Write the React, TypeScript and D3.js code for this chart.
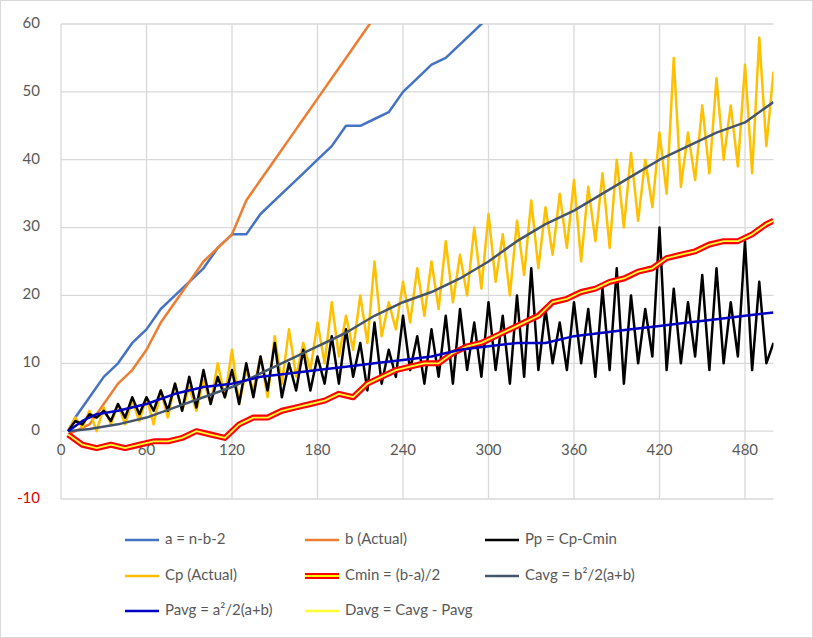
import { useEffect, useRef } from 'react';
import * as d3 from 'd3';

type Pt = [number, number];

// step series sampled every 5 units (x = 5..500)
const stepX = d3.range(5, 501, 5);
const cpValues = [
  0, 2, 0.5, 3, 0, 3.5, 1, 4, 1, 4.5,
  1.5, 5, 1, 6, 2, 7, 3, 6.5, 3, 7.5,
  4, 10, 5, 12, 4, 9, 6, 11, 5, 14,
  7, 15, 8, 13, 9, 16, 10, 19, 11, 17,
  12, 20, 13, 25, 14, 19, 15, 22, 16, 24,
  17, 25, 18, 28, 19, 26, 20, 30, 21, 32,
  22, 29, 20, 31, 23, 34, 24, 33, 26, 35,
  27, 37, 25, 36, 28, 38, 27, 40, 30, 41,
  31, 40, 33, 44, 35, 55, 36, 44, 37, 48,
  38, 52, 40, 48, 39, 54, 38, 58, 42, 53,
];
const ppValues = [
  0, 1.5, 1, 2.5, 2, 3, 1.5, 4, 2, 5,
  2.5, 5, 3, 6, 3, 7, 3, 8, 3.5, 9,
  4, 8, 5, 9, 4, 10, 5, 11, 6, 13,
  5, 10, 6, 12, 6, 11, 7, 14, 7, 15,
  8, 13, 6, 16, 7, 12, 8, 17, 9, 14,
  7, 15, 8, 17, 7, 18, 9, 16, 8, 19,
  9, 17, 7, 20, 8, 24, 9, 18, 10, 16,
  9, 19, 10, 18, 8, 21, 9, 24, 7, 20,
  10, 18, 11, 30, 9, 21, 10, 19, 11, 23,
  9, 24, 10, 19, 11, 28, 9, 22, 10, 13,
];

const aPoints: Pt[] = [[5,0],[10,2],[20,5],[30,8],[40,10],[50,13],[60,15],[70,18],[80,20],[90,22],[100,24],[110,27],[120,29],[130,29],[140,32],[150,34],[160,36],[170,38],[180,40],[190,42],[200,45],[210,45],[220,46],[230,47],[240,50],[250,52],[260,54],[270,55],[280,57],[290,59],[300,61]];
const bPoints: Pt[] = [[5,-0.5],[10,0],[20,1],[30,4],[40,7],[50,9],[60,12],[70,16],[80,19],[90,22],[100,25],[110,27],[120,29],[130,34],[140,37],[150,40],[160,43],[170,46],[180,49],[190,52],[200,55],[210,58],[220,61]];
const cavgPoints: Pt[] = [[5,0],[20,0.3],[40,1],[60,2],[80,3.5],[100,5],[120,6.5],[140,8.5],[160,10.5],[180,12.5],[200,14.5],[220,17],[240,19],[260,20.5],[280,22.5],[300,25],[320,28],[340,30.5],[360,32.5],[380,35],[400,37.5],[420,40],[440,42],[460,44],[480,45.5],[500,48.5]];
const pavgPoints: Pt[] = [[5,0],[15,1.5],[25,2.5],[40,3],[60,4],[80,5.5],[100,6.5],[120,7],[140,8],[160,8.5],[180,9],[200,9.5],[220,10],[240,10.5],[260,11],[280,12],[300,12.5],[320,13],[340,13],[360,14],[380,14.5],[400,15],[420,15.5],[440,16],[460,16.5],[480,17],[500,17.5]];
const cminPoints: Pt[] = [[5,-0.5],[15,-2],[25,-2.5],[35,-2],[45,-2.5],[55,-2],[65,-1.5],[75,-1.5],[85,-1],[95,0],[105,-0.5],[115,-1],[125,1],[135,2],[145,2],[155,3],[165,3.5],[175,4],[185,4.5],[195,5.5],[205,5],[215,7],[225,8],[235,9],[245,9.5],[255,10],[265,10],[275,11.5],[285,12.5],[295,13],[305,14],[315,15],[325,16],[335,17],[345,19],[355,19.5],[365,20.5],[375,21],[385,22],[395,22.5],[405,23.5],[415,24],[425,25.5],[435,26],[445,26.5],[455,27.5],[465,28],[475,28],[485,29],[495,30.5],[500,31]];
const davgPoints: Pt[] = cminPoints; // coincides with Cmin

const xTicks = [0, 60, 120, 180, 240, 300, 360, 420, 480];
const yTicks = [-10, 0, 10, 20, 30, 40, 50, 60];

const legendItems = [
  { label: 'a = n-b-2', color: '#4472c4', width: 2.5 },
  { label: 'b (Actual)', color: '#ed7d31', width: 2.5 },
  { label: 'Pp = Cp-Cmin', color: '#000000', width: 2.5 },
  { label: 'Cp (Actual)', color: '#ffc000', width: 2.5 },
  { label: 'Cmin = (b-a)/2', color: '#ff0000', width: 6, inner: '#ffff00' },
  { label: 'Cavg = b²/2(a+b)', color: '#44546a', width: 2.5 },
  { label: 'Pavg = a²/2(a+b)', color: '#0000c0', width: 2.5 },
  { label: 'Davg = Cavg - Pavg', color: '#ffff33', width: 2.5 },
];

export default function App() {
  const ref = useRef<SVGSVGElement>(null);

  useEffect(() => {
    const svg = d3.select(ref.current);
    svg.selectAll('*').remove();
    const W = 813, H = 638;
    const x = d3.scaleLinear().domain([0, 500]).range([61, 61 + (500 * 85.5) / 60]);
    const y = d3.scaleLinear().domain([-10, 60]).range([499, 24]);
    const font = 'Lato, "Open Sans", sans-serif';

    svg.append('rect').attr('x', 0.5).attr('y', 0.5).attr('width', W - 1).attr('height', H - 1)
      .attr('fill', 'white').attr('stroke', '#d9d9d9');

    svg.append('defs').append('clipPath').attr('id', 'plot')
      .append('rect').attr('x', x(0)).attr('y', y(60)).attr('width', x(500) - x(0)).attr('height', y(-10) - y(60));

    // grid
    yTicks.forEach(t => {
      svg.append('line').attr('x1', x(0)).attr('x2', x(500)).attr('y1', y(t)).attr('y2', y(t))
        .attr('stroke', '#d9d9d9').attr('stroke-width', 1.3);
      svg.append('text').attr('x', 40).attr('y', y(t)).attr('text-anchor', 'end')
        .attr('dominant-baseline', 'middle').attr('font-family', font).attr('font-size', 15)
        .attr('fill', t < 0 ? '#e00000' : '#595959').text(t);
    });
    xTicks.forEach(t => {
      svg.append('line').attr('x1', x(t)).attr('x2', x(t)).attr('y1', y(60)).attr('y2', y(-10))
        .attr('stroke', '#d9d9d9').attr('stroke-width', 1.3);
      svg.append('text').attr('x', x(t)).attr('y', y(0) + 24).attr('text-anchor', 'middle')
        .attr('font-family', font).attr('font-size', 15).attr('fill', '#595959').text(t);
    });

    const line = d3.line<Pt>().x(d => x(d[0])).y(d => y(d[1]));
    const g = svg.append('g').attr('clip-path', 'url(#plot)');
    const draw = (pts: Pt[], color: string, w: number) =>
      g.append('path').datum(pts).attr('d', line).attr('fill', 'none')
        .attr('stroke', color).attr('stroke-width', w).attr('stroke-linejoin', 'round');

    const cp: Pt[] = stepX.map((v, i) => [v, cpValues[i]]);
    const pp: Pt[] = stepX.map((v, i) => [v, ppValues[i]]);

    draw(aPoints, '#4472c4', 2.5);
    draw(bPoints, '#ed7d31', 2.5);
    draw(cp, '#ffc000', 2.5);
    draw(pp, '#000000', 2.5);
    draw(cminPoints, '#ff0000', 6);
    draw(davgPoints, '#ffff33', 1.8);
    draw(cavgPoints, '#44546a', 2.5);
    draw(pavgPoints, '#0000c0', 2.5);

    // legend
    const cols = [125, 305, 485];
    const rows = [540, 576, 611];
    legendItems.forEach((it, i) => {
      const cx = cols[i % 3], cy = rows[Math.floor(i / 3)];
      svg.append('line').attr('x1', cx).attr('x2', cx + 34).attr('y1', cy).attr('y2', cy)
        .attr('stroke', it.color).attr('stroke-width', it.width);
      if (it.inner) {
        svg.append('line').attr('x1', cx).attr('x2', cx + 34).attr('y1', cy).attr('y2', cy)
          .attr('stroke', it.inner).attr('stroke-width', 1.8);
      }
      svg.append('text').attr('x', cx + 40).attr('y', cy).attr('dominant-baseline', 'middle')
        .attr('font-family', font).attr('font-size', 15).attr('fill', '#595959').text(it.label);
    });
  }, []);

  return <svg ref={ref} width={813} height={638} style={{ position: 'absolute', left: 0, top: 0 }} />;
}
